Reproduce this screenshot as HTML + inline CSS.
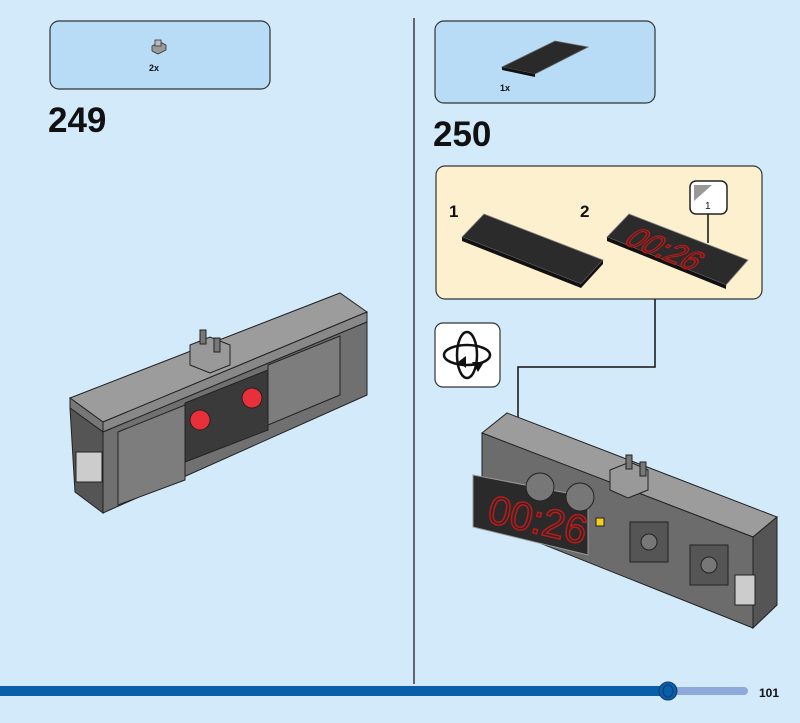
<!DOCTYPE html>
<html><head><meta charset="utf-8"><style>
body{margin:0;width:800px;height:718px;background:#d3eafa;overflow:hidden;font-family:"Liberation Sans",sans-serif}
</style></head><body>
<svg width="800" height="718" viewBox="0 0 800 718" xmlns="http://www.w3.org/2000/svg" font-family="Liberation Sans, sans-serif">
<rect width="800" height="718" fill="#d3eafa"/>
<line x1="414" y1="18" x2="414" y2="684" stroke="#111" stroke-width="1.2"/>
<rect x="50" y="21" width="220" height="68" rx="9" fill="#b8dcf5" stroke="#333" stroke-width="1.2"/>
<g transform="translate(150,38)">
<polygon points="2,8 10,4 16,7 16,12 8,16 2,13" fill="#9a9a9a" stroke="#333" stroke-width="0.8"/>
<rect x="5" y="2" width="6" height="6" fill="#bbb" stroke="#333" stroke-width="0.8"/>
</g>
<text x="149" y="71" font-size="9" font-weight="bold" fill="#111">2x</text>
<rect x="435" y="21" width="220" height="82" rx="9" fill="#b8dcf5" stroke="#333" stroke-width="1.2"/>
<polygon points="502,67 555,41 588,47 535,74" fill="#2a2a2a" stroke="#666" stroke-width="0.8"/>
<polygon points="502,67 535,74 535,77 502,70" fill="#111"/>
<text x="500" y="91" font-size="9" font-weight="bold" fill="#111">1x</text>
<text x="48" y="132" font-size="35" font-weight="bold" fill="#111">249</text>
<text x="433" y="146" font-size="35" font-weight="bold" fill="#111">250</text>
<rect x="436" y="166" width="326" height="133" rx="9" fill="#fcf0cf" stroke="#333" stroke-width="1.2"/>
<text x="449" y="217" font-size="17" font-weight="bold" fill="#111">1</text>
<text x="580" y="217" font-size="17" font-weight="bold" fill="#111">2</text>
<polygon points="462,237 484,214 603,260 581,284" fill="#2b2b2b" stroke="#888" stroke-width="0.8"/>
<polygon points="462,237 581,284 581,288 462,241" fill="#111"/>
<polygon points="581,284 603,260 603,264 581,288" fill="#111"/>
<polygon points="607,237 629,214 748,260 726,285" fill="#2b2b2b" stroke="#888" stroke-width="0.8"/>
<polygon points="607,237 726,285 726,289 607,241" fill="#111"/>
<text x="0" y="0" font-size="30" fill="none" stroke="#c01818" stroke-width="1.3" transform="translate(622,243) rotate(22) skewX(-25)">00:26</text>
<rect x="690" y="181" width="37" height="33" rx="6" fill="#fff" stroke="#222" stroke-width="1.5"/>
<polygon points="694,185 712,185 694,201" fill="#999"/>
<text x="705" y="209" font-size="10" fill="#111">1</text>
<line x1="708" y1="214" x2="708" y2="243" stroke="#111" stroke-width="1.5"/>
<rect x="435" y="323" width="65" height="64" rx="8" fill="#fff" stroke="#333" stroke-width="1.2"/>
<ellipse cx="467" cy="355" rx="23" ry="10" fill="none" stroke="#111" stroke-width="2.5"/>
<ellipse cx="467" cy="355" rx="10" ry="23" fill="none" stroke="#111" stroke-width="2.5"/>
<polygon points="472,362 484,362 478,372" fill="#111"/>
<polygon points="458,362 466,356 466,368" fill="#111"/>
<polyline points="655,299 655,367 518,367 518,480" fill="none" stroke="#111" stroke-width="1.5"/>
<polygon points="511,475 525,475 518,492" fill="#111"/>
<!-- left model -->
<g stroke="#222" stroke-width="1">
<polygon points="70,398 340,293 367,312 103,422" fill="#9c9c9c"/>
<polygon points="70,398 103,422 103,432 70,408" fill="#777"/>
<polygon points="103,422 367,312 367,322 103,432" fill="#888"/>
<polygon points="103,432 367,322 367,395 103,513" fill="#707070"/>
<polygon points="70,408 103,432 103,513 75,492" fill="#555"/>
<polygon points="118,432 185,405 185,480 118,505" fill="#7d7d7d"/>
<polygon points="268,365 340,336 340,395 268,425" fill="#7d7d7d"/>
<rect x="76" y="452" width="26" height="30" fill="#ccc"/>
<polygon points="185,403 268,370 268,430 185,462" fill="#3a3a3a"/>
<circle cx="200" cy="420" r="10" fill="#e8303a"/>
<circle cx="252" cy="398" r="10" fill="#e8303a"/>
<polygon points="190,345 210,337 230,345 230,365 210,373 190,365" fill="#999"/>
<rect x="200" y="330" width="6" height="14" fill="#777"/>
<rect x="214" y="338" width="6" height="14" fill="#777"/>
</g>
<!-- right model -->
<g stroke="#222" stroke-width="1">
<polygon points="482,433 507,413 777,517 753,537" fill="#9c9c9c"/>
<polygon points="482,433 753,537 753,628 482,520" fill="#6c6c6c"/>
<polygon points="753,537 777,517 777,605 753,628" fill="#555"/>
<rect x="735" y="575" width="20" height="30" fill="#ccc"/>
<polygon points="473,475 588,497 588,555 473,527" fill="#2a2a2a" stroke="#999"/>
<text x="0" y="0" font-size="40" fill="none" stroke="#c01818" stroke-width="1.5" transform="translate(486,522) rotate(13)">00:26</text>
<circle cx="540" cy="487" r="14" fill="#777"/>
<circle cx="580" cy="497" r="14" fill="#777"/>
<rect x="630" y="522" width="38" height="40" fill="#555"/>
<circle cx="649" cy="542" r="8" fill="#777"/>
<rect x="690" y="545" width="38" height="40" fill="#555"/>
<circle cx="709" cy="565" r="8" fill="#777"/>
<rect x="596" y="518" width="8" height="8" fill="#f0d020"/>
<polygon points="610,470 630,462 648,470 648,490 628,498 610,490" fill="#999"/>
<rect x="626" y="455" width="6" height="14" fill="#777"/>
<rect x="640" y="462" width="6" height="14" fill="#777"/>
</g>
<rect x="0" y="686" width="668" height="10" fill="#0a5fab"/>
<rect x="668" y="687" width="80" height="8" rx="4" fill="#8eaadb"/>
<ellipse cx="668" cy="691" rx="9" ry="9" fill="#0a5fab" stroke="#0a3a70"/>
<ellipse cx="668" cy="691" rx="5" ry="6" fill="none" stroke="#0a3a70"/>
<text x="759" y="697" font-size="12" font-weight="bold" fill="#111">101</text>
</svg>
</body></html>
